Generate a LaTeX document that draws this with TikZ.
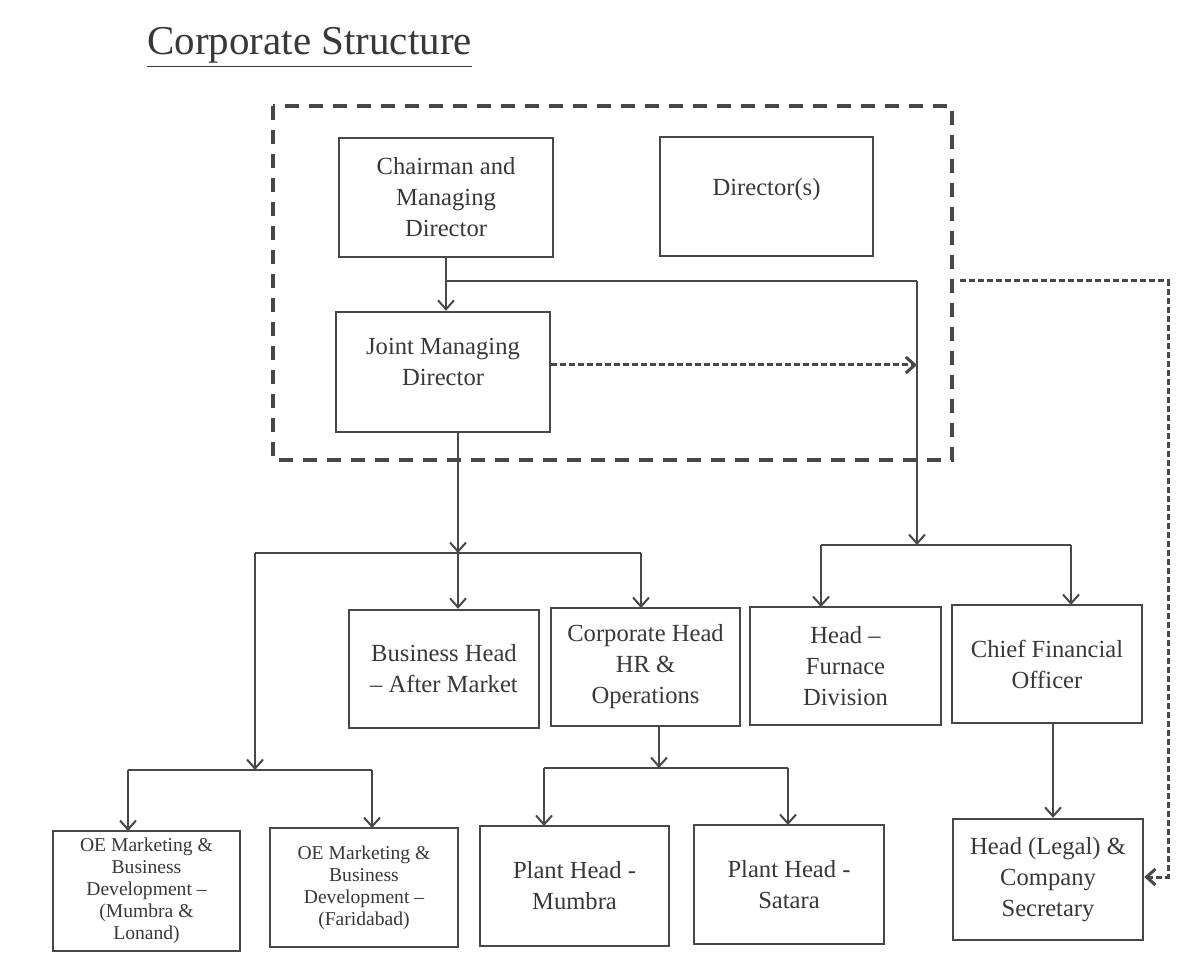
\documentclass[tikz,border=0pt]{standalone}
\usepackage{fontspec}
\setmainfont{Liberation Serif}
\usetikzlibrary{arrows.meta}
\definecolor{linec}{HTML}{484848}
\definecolor{textc}{HTML}{383838}
\begin{document}
\begin{tikzpicture}[x=0.5pt, y={(0pt,-0.5pt)},
	post/.style={draw=linec, line width=1.2pt, text=textc, align=center, inner sep=2pt,
		font=\fontsize{12.3}{15.5}\selectfont},
	smallpost/.style={post, font=\fontsize{9.8}{11}\selectfont},
	wire/.style={draw=linec, line width=1pt},
	arr/.style={wire, -{Straight Barb[length=4.5pt,width=8pt]}},
	darr/.style={arr, line width=1.5pt, dash pattern=on 3pt off 1.5pt}]

	% page
	\fill[white] (0,0) rectangle (1203,972);

	% title
	\node[anchor=base west, text=textc, inner sep=0pt, font=\fontsize{20.5}{24}\selectfont]
		(title) at (147,55) {\underline{Corporate Structure}};

	% board
	\draw[linec, line width=2pt, dash pattern=on 7pt off 5pt] (273,106) rectangle (952,460);
	\node[post, minimum width=107pt, minimum height=59.5pt] (chair) at (446,197.5)
		{Chairman and\\Managing\\Director};
	\node[post, minimum width=106.5pt, minimum height=59.5pt] (dirs) at (766.5,196.5)
		{Director(s)\\[-5.5pt]};
	\node[post, minimum width=107pt, minimum height=60pt] (jmd) at (443,372)
		{Joint Managing\\Director\\[-5.5pt]};

	% second level
	\node[post, minimum width=95pt, minimum height=59pt] (bh) at (444,669)
		{Business Head\\-- After Market};
	\node[post, minimum width=94.5pt, minimum height=59pt] (chr) at (645.5,667)
		{Corporate Head\\HR \&\\Operations};
	\node[post, minimum width=95.5pt, minimum height=59pt] (hf) at (845.5,666)
		{Head --\\Furnace\\Division};
	\node[post, minimum width=95pt, minimum height=59pt] (cfo) at (1047,664)
		{Chief Financial\\Officer};

	% third level
	\node[smallpost, minimum width=93.5pt, minimum height=60pt] (oea) at (146.5,891)
		{OE Marketing \&\\Business\\Development --\\(Mumbra \&\\Lonand)};
	\node[smallpost, minimum width=94pt, minimum height=59.5pt] (oeb) at (364,887.5)
		{OE Marketing \&\\Business\\Development --\\(Faridabad)};
	\node[post, minimum width=94.5pt, minimum height=60pt] (pm) at (574.5,886)
		{Plant Head -\\Mumbra};
	\node[post, minimum width=95pt, minimum height=59.5pt] (ps) at (789,884.5)
		{Plant Head -\\Satara};
	\node[post, minimum width=95pt, minimum height=60.5pt] (legal) at (1048,879.5)
		{Head (Legal) \&\\Company\\Secretary};

	% junctions
	\coordinate (ctop) at (446,281);
	\coordinate (rdrop) at (917,281);
	\coordinate (rbar) at (917,545);
	\coordinate (lbar) at (458,553);
	\coordinate (oebar) at (255,770);
	\coordinate (plbar) at (659,768);
	\coordinate (sideA) at (1168,281);
	\coordinate (sideB) at (1168,877);

	% chairman lines
	\draw[arr] (chair.south) -- (chair.south |- jmd.north);
	\draw[wire] (ctop) -- (rdrop);
	\draw[arr] (rdrop) -- (rbar);
	\draw[darr] (jmd.east |- 0,365) -- (rdrop |- 0,365);

	% right branch
	\draw[wire] (821,545) -- (1071,545);
	\draw[arr] (821,545) -- (821,607);
	\draw[arr] (1071,545) -- (1071,605);
	\draw[arr] (cfo.south -| 1053,0) -- (legal.north -| 1053,0);
	\draw[darr] (960,281) -- (sideA) -- (sideB) -- (legal.east |- sideB);

	% left branch
	\draw[arr] (jmd.south -| lbar) -- (lbar);
	\draw[wire] (255,553) -- (641,553);
	\draw[arr] (lbar) -- (lbar |- bh.north);
	\draw[arr] (641,553) -- (641,608);
	\draw[arr] (255,553) -- (oebar);
	\draw[wire] (128,770) -- (372,770);
	\draw[arr] (128,770) -- (128,831);
	\draw[arr] (372,770) -- (372,828);

	% plants
	\draw[arr] (chr.south -| plbar) -- (plbar);
	\draw[wire] (544,768) -- (788,768);
	\draw[arr] (544,768) -- (544,826);
	\draw[arr] (788,768) -- (788,825);

\end{tikzpicture}
\end{document}
